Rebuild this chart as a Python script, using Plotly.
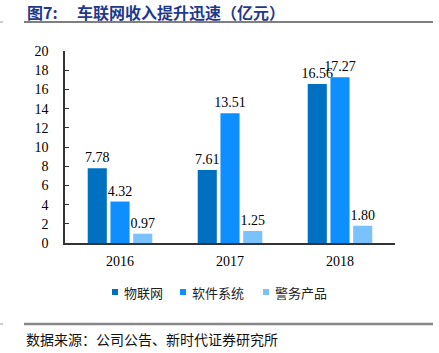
import plotly.graph_objects as go

years = ["2016", "2017", "2018"]
iot = [7.78, 7.61, 16.56]
software = [4.32, 13.51, 17.27]
police = [0.97, 1.25, 1.80]
series_names = ["物联网", "软件系统", "警务产品"]
colors = ["#0070C0", "#0D8FFF", "#79C2FF"]
yticks = list(range(0, 21, 2))

W, H = 439, 353
L, R, T, B = 65, 44, 51, 110

fig = go.Figure()
for name, vals, c in zip(series_names, [iot, software, police], colors):
    fig.add_trace(go.Bar(
        x=years, y=vals, name=name, marker=dict(color=c, line=dict(width=0)),
        text=[f"{v:.2f}" for v in vals], textposition="outside",
        textfont=dict(family="Liberation Serif", size=14, color="#000"),
        constraintext="none", cliponaxis=False, showlegend=False,
    ))

fig.update_layout(
    width=W, height=H, margin=dict(l=L, r=R, t=T, b=B),
    paper_bgcolor="white", plot_bgcolor="white",
    barmode="group", bargap=0.38, bargroupgap=0.16,
    uniformtext=dict(mode=False),
    font=dict(family="Liberation Serif", size=14, color="#000"),
    xaxis=dict(showgrid=False, showline=True, linecolor="#333", linewidth=1.5,
               ticks="", tickfont=dict(size=14), ticklabelstandoff=4),
    yaxis=dict(range=[0, 20], tickvals=yticks, showgrid=False, showline=True,
               linecolor="#333", linewidth=1.5, ticks="inside", ticklen=4,
               tickcolor="#333", tickfont=dict(size=14), zeroline=False,
               ticklabelstandoff=12),
)

def pxp(x):
    return (x - L) / (W - L - R)

def pyp(y):
    return (H - B - y) / (H - T - B)

shapes = []
annotations = []
# title line and bottom line
shapes.append(dict(type="line", xref="paper", yref="paper", x0=pxp(24), x1=pxp(433),
                   y0=pyp(22), y1=pyp(22), line=dict(color="#555", width=1.5)))
shapes.append(dict(type="line", xref="paper", yref="paper", x0=pxp(24), x1=pxp(433),
                   y0=pyp(324), y1=pyp(324), line=dict(color="#888", width=2.5)))
for yy in (22, 324):
    shapes.append(dict(type="line", xref="paper", yref="paper", x0=pxp(0), x1=pxp(3),
                       y0=pyp(yy), y1=pyp(yy), line=dict(color="#999", width=1)))

# legend
leg_x = [112, 180, 263]
for x0, name, c in zip(leg_x, series_names, colors):
    shapes.append(dict(type="rect", xref="paper", yref="paper", x0=pxp(x0), x1=pxp(x0 + 6),
                       y0=pyp(295), y1=pyp(289), fillcolor=c, line=dict(width=0)))
    annotations.append(dict(xref="paper", yref="paper", x=pxp(x0 + 10), y=pyp(292), text=name,
                            showarrow=False, xanchor="left", yanchor="middle",
                            font=dict(family="Noto Sans CJK SC", size=13, color="#222")))

title_color = "#1F3A8C"
annotations.append(dict(xref="paper", yref="paper", x=pxp(25), y=pyp(12), text="<b>图7:</b>",
                        showarrow=False, xanchor="left", yanchor="middle",
                        font=dict(family="Noto Sans CJK SC", size=16, color=title_color)))
annotations.append(dict(xref="paper", yref="paper", x=pxp(75), y=pyp(12), text="<b>车联网收入提升迅速（亿元）</b>",
                        showarrow=False, xanchor="left", yanchor="middle",
                        font=dict(family="Noto Sans CJK SC", size=16, color=title_color)))
annotations.append(dict(xref="paper", yref="paper", x=pxp(24), y=pyp(339), text="数据来源：公司公告、新时代证券研究所",
                        showarrow=False, xanchor="left", yanchor="middle",
                        font=dict(family="Noto Sans CJK SC", size=14, color="#111")))

fig.update_layout(shapes=shapes, annotations=annotations)
fig.write_html("out.html")
